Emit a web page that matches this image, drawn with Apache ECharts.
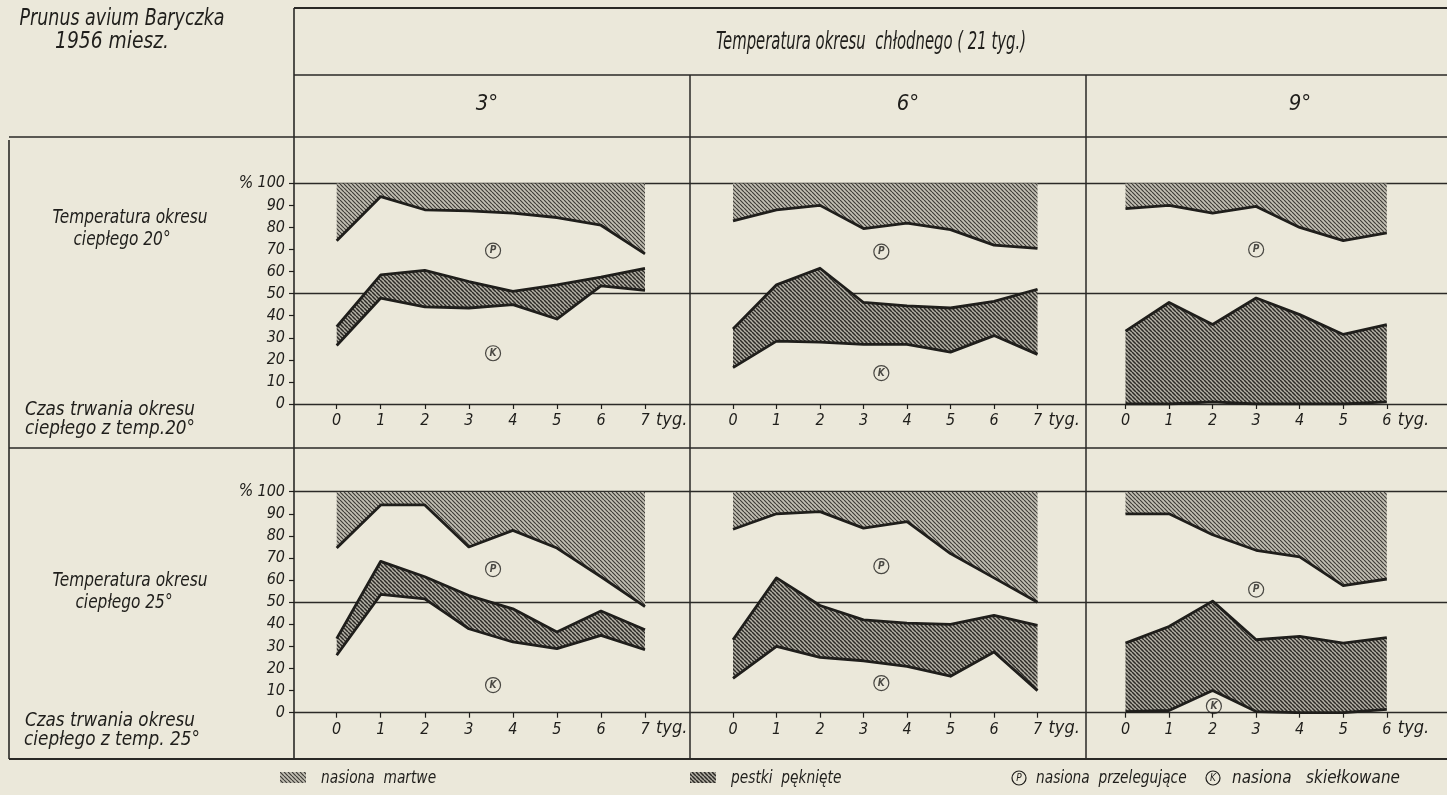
<!DOCTYPE html>
<html><head><meta charset="utf-8">
<script src="https://cdn.jsdelivr.net/npm/echarts@6/dist/echarts.min.js"></script>
<style>html,body{margin:0;padding:0;background:#ebe8da}#c{width:1447px;height:795px}</style>
</head><body><div id="c"></div><script>
// ---- data (percent of seeds) ----
const weeks7 = ['0','1','2','3','4','5','6','7'];
const weeks6 = ['0','1','2','3','4','5','6'];
const yTickStep = 10;
const colLabels = ['3°','6°','9°'];
const rowLabels = ['Temperatura okresu','ciepłego 20°','Temperatura okresu','ciepłego 25°'];
const rowAxisLabels = ['Czas trwania okresu','ciepłego z temp.20°','Czas trwania okresu','ciepłego z temp. 25°'];

// top = upper limit of "nasiona przelegujące" (above it: nasiona martwe)
// mid = upper limit of band "pestki pęknięte", low = upper limit of "nasiona skiełkowane"
const top_3_20 = [74,94,88,87.5,86.5,84.5,81,68];
const mid_3_20 = [35,58.5,60.5,55.5,51,54,57.5,61.5];
const low_3_20 = [26.5,48,44,43.5,45,38.5,53.5,51.5];

const top_6_20 = [83,88,90,79.5,82,79,72,70.5];
const mid_6_20 = [34,54,61.5,46,44.5,43.5,46.5,52];
const low_6_20 = [16.5,28.5,28,27,27,23.5,31,22.5];

const top_9_20 = [88.5,90,86.5,89.5,80,74,77.5];
const mid_9_20 = [33,46,36,48,40.5,31.5,36];
const low_9_20 = [0,0,1,0,0,0,1];

const top_3_25 = [74.5,94,94,75,82.5,74.5,61.5,48];
const mid_3_25 = [33.5,68.5,61.5,53,47,36.5,46,37.5];
const low_3_25 = [26,53.5,51.5,38,32,29,35,28.5];

const top_6_25 = [83,90,91,83.5,86.5,72,61,50];
const mid_6_25 = [33,61,48.5,42,40.5,40,44,39.5];
const low_6_25 = [15.5,30,25,23.5,21,16.5,27.5,10];

const top_9_25 = [90,90,80.5,73.5,70.5,57.5,60.5];
const mid_9_25 = [31.5,39,50.5,33,34.5,31.5,34];
const low_9_25 = [0.5,1,10,0.5,0,0,1.5];

// ---- styling / layout ----
const FONT = "'Liberation Sans Narrow','DejaVu Sans Condensed','Liberation Sans',sans-serif";
const INK = '#1f1e1b';
const rowsPx = [{top:183.3,h:220.7},{top:491.7,h:221}];
const colsPx = [{left:336.7,w:308.3},{left:733,w:304.5},{left:1125.5,w:261.3}];

function hatch(bg, fg, s, w){
  const c=document.createElement('canvas'); c.width=s; c.height=s;
  const g=c.getContext('2d'); g.fillStyle=bg; g.fillRect(0,0,s,s);
  g.strokeStyle=fg; g.lineWidth=w; g.beginPath();
  for(let k=-1;k<=1;k++){ g.moveTo(k*s,0); g.lineTo(k*s+s,s); }
  g.stroke();
  return c;
}
const patTop = {image:hatch('#c2bfb3','#3f3d38',4,1.2), repeat:'repeat'};
const patMid = {image:hatch('#b3b0a5','#2c2a26',4,1.5), repeat:'repeat'};

const panels = [
  {r:0,c:0,xs:weeks7,top:top_3_20,mid:mid_3_20,low:low_3_20,P:[3.55,69.5],K:[3.55,23]},
  {r:0,c:1,xs:weeks7,top:top_6_20,mid:mid_6_20,low:low_6_20,P:[3.41,69],K:[3.41,14]},
  {r:0,c:2,xs:weeks6,top:top_9_20,mid:mid_9_20,low:low_9_20,P:[3.0,70],K:null},
  {r:1,c:0,xs:weeks7,top:top_3_25,mid:mid_3_25,low:low_3_25,P:[3.55,65],K:[3.55,12.5]},
  {r:1,c:1,xs:weeks7,top:top_6_25,mid:mid_6_25,low:low_6_25,P:[3.41,66.3],K:[3.41,13.4]},
  {r:1,c:2,xs:weeks6,top:top_9_25,mid:mid_9_25,low:low_9_25,P:[3.0,55.7],K:[2.03,3]}
];

const grid=[], xAxis=[], yAxis=[], series=[];
const lineSty = {color:INK,width:2.8,join:'round'};
const lblFont = {fontFamily:FONT, fontStyle:'italic', fontSize:16, color:INK};
function circled(pos, letter, xi, yi){
  return {type:'scatter', xAxisIndex:xi, yAxisIndex:yi, data:[pos], symbol:'circle', symbolSize:15, silent:true, z:6,
    itemStyle:{color:'rgba(0,0,0,0)', borderColor:INK, borderWidth:1.2},
    label:{show:true, position:'inside', formatter:letter, fontFamily:FONT, fontStyle:'italic', fontSize:10, fontWeight:'bold', color:INK}};
}
panels.forEach((p,i)=>{
  const R=rowsPx[p.r], C=colsPx[p.c];
  const gi=grid.length;
  grid.push({left:C.left, top:R.top, width:C.w, height:R.h, containLabel:false, outerBoundsMode:'none'});
  const xc=xAxis.length;
  xAxis.push({type:'category', gridIndex:gi, data:p.xs, boundaryGap:false,
    axisLine:{show:false}, splitLine:{show:false},
    axisTick:{show:true, length:5, interval:0, lineStyle:{color:INK,width:1.2}},
    axisLabel:{show:true, margin:9, interval:0, ...lblFont},
    name:'tyg.', nameLocation:'end', nameGap:11,
    nameTextStyle:{fontFamily:FONT, fontStyle:'italic', fontSize:18, color:INK, verticalAlign:'top', padding:[7,0,0,0]}});
  const xv=xAxis.length;
  xAxis.push({type:'value', gridIndex:gi, min:0, max:p.xs.length-1, show:false});
  const yi=yAxis.length;
  yAxis.push({type:'value', gridIndex:gi, min:0, max:100, show:false});
  const base={type:'line', xAxisIndex:xc, yAxisIndex:yi, symbol:'none', silent:true, z:4};
  series.push({...base, stack:'m'+i, stackStrategy:'all', data:p.low.slice(), lineStyle:lineSty});
  series.push({...base, stack:'m'+i, stackStrategy:'all', data:p.mid.map((v,j)=>v-p.low[j]),
    lineStyle:lineSty, areaStyle:{color:patMid, opacity:1}});
  series.push({...base, stack:'t'+i, stackStrategy:'all', data:p.top.slice(), lineStyle:lineSty});
  series.push({...base, z:3, stack:'t'+i, stackStrategy:'all', data:p.top.map(v=>100-v),
    lineStyle:{width:0}, areaStyle:{color:patTop, opacity:1}});
  if(p.P) series.push(circled(p.P,'P',xv,yi));
  if(p.K) series.push(circled(p.K,'K',xv,yi));
});
// background grids per row: percent scale + reference lines 0/50/100
rowsPx.forEach((R,r)=>{
  const gi = grid.length;
  grid.push({left:294, top:R.top, width:1153, height:R.h, containLabel:false, outerBoundsMode:'none'});
  const xi=xAxis.length;
  xAxis.push({type:'value', gridIndex:gi, min:0, max:1, show:false});
  const ya = yAxis.length;
  yAxis.push({type:'value', gridIndex:gi, min:0, max:100, interval:yTickStep, position:'left',
    axisLine:{show:false}, splitLine:{show:false},
    axisTick:{show:true, length:5, lineStyle:{color:INK,width:1.2}},
    axisLabel:{show:true, margin:9, ...lblFont}});
  yAxis.push({type:'value', gridIndex:gi, min:0, max:100, interval:50, position:'left',
    axisLine:{show:false}, axisTick:{show:false}, axisLabel:{show:false},
    splitLine:{show:true, lineStyle:{color:'#2b2a27', width:1.3}}});
  series.push({type:'line', xAxisIndex:xi, yAxisIndex:ya, data:[], silent:true});
  series.push({type:'line', xAxisIndex:xi, yAxisIndex:ya+1, data:[], silent:true});
});

// frame, headings, legend
const mctx=document.createElement('canvas').getContext('2d');
const g=[];
const L=(x1,y1,x2,y2,w)=>g.push({type:'line', shape:{x1,y1,x2,y2}, style:{stroke:'#2a2926', lineWidth:w||1.5}, silent:true});
L(294,8,1447,8,2); L(294,75,1447,75,1.6); L(9,137,1447,137,1.6); L(9,448,1447,448,1.6); L(9,759,1447,759,1.8);
L(294,8,294,759,1.6); L(690,75,690,759,1.5); L(1086,75,1086,759,1.5); L(9,140,9,759,1.6);
// text with optional target width or horizontal scale (narrow lettering of the original)
const T=(x,y,text,size,align,targetW,scale)=>{
  const font=`italic ${size}px ${FONT}`;
  let sx=scale||1;
  if(targetW){ mctx.font=font; sx=targetW/mctx.measureText(text).width; }
  g.push({type:'text', x, y, scaleX:sx, silent:true,
    style:{text, fill:INK, font, textAlign:align||'center', textVerticalAlign:'middle'}});
};
T(122,19,'Prunus avium Baryczka',23,'center',205);
T(112,42,'1956 miesz.',23,'center',114);
T(871,42,'Temperatura okresu  chłodnego ( 21 tyg.)',25,'center',310);
colLabels.forEach((t,c)=>T([487,908,1300][c],104,t,22));
T(130,218,rowLabels[0],19,'center',null,0.9); T(122,240,rowLabels[1],19,'center',null,0.9);
T(130,581,rowLabels[2],19,'center',null,0.9); T(124,603,rowLabels[3],19,'center',null,0.9);
T(110,410,rowAxisLabels[0],19,'center',170); T(110,429,rowAxisLabels[1],19,'center',170);
T(110,721,rowAxisLabels[2],19,'center',170); T(112,740,rowAxisLabels[3],19,'center',176);
T(246,rowsPx[0].top,'%',17); T(246,rowsPx[1].top,'%',17);
// legend
g.push({type:'rect', shape:{x:280,y:772,width:26,height:11}, style:{fill:patTop}, silent:true});
T(321,778,'nasiona  martwe',18,'left',null,0.85);
g.push({type:'rect', shape:{x:690,y:772,width:26,height:11}, style:{fill:patMid}, silent:true});
T(731,778,'pestki  pęknięte',18,'left',null,0.85);
g.push({type:'circle', shape:{cx:1019,cy:778,r:7}, style:{fill:'none', stroke:INK, lineWidth:1.2}, silent:true});
T(1019,778,'P',10,'center');
T(1036,778,'nasiona  przelegujące',18,'left',null,0.85);
g.push({type:'circle', shape:{cx:1213,cy:778,r:7}, style:{fill:'none', stroke:INK, lineWidth:1.2}, silent:true});
T(1213,778,'K',10,'center');
T(1232,778,'nasiona   skiełkowane',18,'left',168);

const chart=echarts.init(document.getElementById('c'),null,{renderer:'canvas'});
chart.setOption({backgroundColor:'#ebe8da', animation:false, tooltip:{show:false},
  grid, xAxis, yAxis, series, graphic:g});
</script></body></html>
